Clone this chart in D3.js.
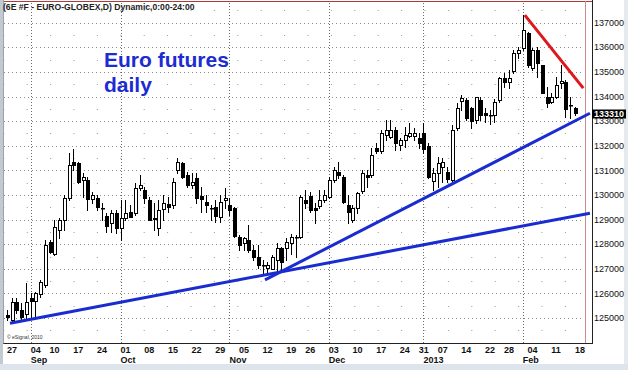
<!DOCTYPE html>
<html>
<head>
<meta charset="utf-8">
<script src="https://cdn.jsdelivr.net/npm/d3@7"></script>
<style>
body { margin: 0; background: #fff; }
svg { display: block; font-family: "Liberation Sans", Arial, sans-serif; }
</style>
</head>
<body>
<script>
// daily bars, 27 Aug 2012 .. 18 Feb 2013 (one entry per trading day)
const open = [125130,124920,125670,125330,125200,125820,125670,126010,126350,128100,
  127630,128580,128990,129870,131350,131300,130610,130610,129830,129870,
  129460,129150,128850,129260,128650,129050,129320,129260,130270,130200,
  129800,128990,128650,129420,129640,129600,131020,131290,130810,130410,
  130680,129960,129730,129470,129500,129120,129800,129600,129460,128280,
  128050,128170,127770,127500,127160,127010,127010,127360,127840,127840,
  128050,128280,128310,129800,129960,129460,129550,129800,129930,130610,
  130950,130740,129600,128990,129460,130140,130810,130810,131900,131760,
  132440,132370,132640,132030,132240,132400,132370,132300,132530,131990,
  130540,130880,131150,130950,130610,132710,133790,133860,133520,133050,
  133860,133330,133250,133250,133860,134750,134600,135010,135760,135960,
  136570,135150,135890,135280,133990,133790,133990,134560,134600,133660,
  133520];
const high = [125330,125810,125810,125600,126410,126010,126050,126550,128170,128170,
  128990,129050,130000,131700,131860,131350,130880,130740,130140,130000,
  129660,129260,129390,129390,129800,129800,129600,130480,130810,130340,
  129930,129660,129800,130000,129930,130680,131490,131350,130950,130880,
  130880,130340,130000,129600,129800,130000,130270,129870,129530,128380,
  128310,128780,127970,127970,127360,127290,127560,128040,127900,128240,
  128420,128380,129990,130200,130140,129660,130200,130200,130740,131150,
  131350,130810,130000,129600,130140,131020,131020,131900,132100,132640,
  133050,133050,132780,132300,132780,132910,132710,132510,132910,132100,
  131090,131560,131490,131150,132850,133730,134060,133930,133590,133990,
  133990,133520,133450,133900,134810,134950,135080,135890,136030,137310,
  136630,135960,136030,135280,134400,134130,134810,135280,134670,133990,
  133590];
const low = [124920,124860,125200,124920,125000,125060,125060,125870,126280,127630,
  127560,128240,128580,129800,131020,130480,129930,129390,129660,129390,
  128990,128510,128510,128450,128170,128990,129120,129190,130200,129660,
  128990,128580,128380,128990,129320,129460,130880,130680,130340,130270,
  129660,129320,129320,128990,128920,128920,129460,129190,128280,127770,
  127770,127700,127360,127020,126820,126820,127010,126820,126960,127360,
  127600,127500,128250,129460,129320,128850,129460,129730,129870,130540,
  130680,129660,128850,128920,129260,130070,130340,130740,131700,131700,
  132240,132300,131830,131830,131960,132360,132240,131900,131700,130680,
  130200,130340,130540,130540,130540,132640,133450,133050,132710,132910,
  133050,132950,132900,132980,133790,134400,134340,134940,135550,135890,
  135210,135080,134810,134130,133590,133730,133930,134340,133180,133120,
  133250];
const close = [125050,125670,125330,125060,125670,125710,126010,126480,127970,127700,
  128710,128990,129870,131220,131220,130540,130740,129830,130000,129500,
  129450,128740,129260,128650,129050,129270,129120,130270,130410,129870,
  128990,129050,129390,129660,129500,130540,131350,130740,130410,130540,
  129870,129830,129600,129460,129120,129730,129870,129390,128310,127970,
  128260,127770,127500,127160,127150,127150,127500,127840,127290,128100,
  128310,128300,129930,129660,129390,129390,129800,130000,130610,131020,
  130810,129730,129320,129460,130070,130880,130740,131630,131760,132510,
  132640,132640,132100,132240,132440,132530,132510,132100,131900,130740,
  130880,131290,131350,130680,132640,133520,133930,133120,132980,133990,
  133250,133250,133230,133790,134740,134600,134750,135760,135890,136700,
  135280,135890,135350,134130,133730,133990,134470,134640,133520,133650,
  133310];

// axis labels
const dayIdx = [0,5,9,14,19,24,29,34,39,44,49,54,59,63,68,73,78,83,87,91,96,101,105,110,115,120];
const dayLbl = ['27','04','10','17','24','01','08','15','22','29','05','12','19','26','03','10','17','24','31','07','14','22','28','04','11','18'];
const monthIdx = [5,24,47,68,88,109];
const monthLbl = ['Sep','Oct','Nov','Dec','2013','Feb'];
const priceTicks = d3.range(125000, 137001, 1000);
const lastPrice = 133310;

// hand drawn trend lines [bar index, price]
const blueLong = [[0.42, 124790], [122.96, 129260]];
const blueSteep = [[54.3, 126550], [122.96, 133320]];
const redLine = [[109.2, 137310], [121.55, 134340]];

const w = 628, h = 370;
const svg = d3.select('body').append('svg').attr('width', w).attr('height', h);

const x = d3.scaleLinear().domain([-1.06, 123.4]).range([3, 592]);
const y = d3.scaleLinear().domain([124000, 137000]).range([342.7, 22.7]);
const plotR = 585, axisX = 592, axisY = Math.round(y(124000)) + 0.5;

// window frame
svg.append('rect').attr('x', 0).attr('y', 0).attr('width', 3).attr('height', h).attr('fill', '#c3c9d1');
svg.append('rect').attr('x', 0).attr('y', 364).attr('width', w).attr('height', 6).attr('fill', '#dde4ec');
svg.append('rect').attr('x', 624).attr('y', 0).attr('width', 4).attr('height', 364).attr('fill', '#e6eaee');

// grid
svg.append('g').selectAll('line').data(priceTicks).join('line')
  .attr('x1', 4).attr('x2', plotR - 1)
  .attr('y1', d => Math.round(y(d)) + 0.5).attr('y2', d => Math.round(y(d)) + 0.5)
  .attr('stroke', '#8c8c8c').attr('stroke-dasharray', '1,3');
svg.append('g').selectAll('line').data(d3.range(124500, 137600, 1000)).join('line')
  .attr('x1', 3.3).attr('x2', plotR - 1)
  .attr('y1', d => Math.round(y(d)) + 0.5).attr('y2', d => Math.round(y(d)) + 0.5)
  .attr('stroke', '#9a9a9a').attr('stroke-dasharray', '1,22.4');
svg.append('g').selectAll('line').data(monthIdx).join('line')
  .attr('x1', d => Math.round(x(d)) - 0.5).attr('x2', d => Math.round(x(d)) - 0.5)
  .attr('y1', 3).attr('y2', axisY)
  .attr('stroke', '#6a6a6a').attr('stroke-dasharray', '1,2');

// plot border
svg.append('line').attr('x1', 3).attr('x2', axisX).attr('y1', 1.5).attr('y2', 1.5).attr('stroke', '#b03a3a');
svg.append('line').attr('x1', plotR + 0.5).attr('x2', plotR + 0.5).attr('y1', 1).attr('y2', axisY).attr('stroke', '#cf8a8a');
svg.append('line').attr('x1', axisX + 0.5).attr('x2', axisX + 0.5).attr('y1', 0).attr('y2', axisY + 0.5).attr('stroke', '#222');
svg.append('line').attr('x1', 3).attr('x2', axisX).attr('y1', axisY).attr('y2', axisY).attr('stroke', '#222');
svg.append('line').attr('x1', 3.5).attr('x2', 3.5).attr('y1', 0).attr('y2', axisY).attr('stroke', '#9aa2ac');

// title
svg.append('text').attr('x', 3).attr('y', 10).style('font-size', '8.6px').style('font-weight', 'bold')
  .attr('fill', '#222').text('(6E #F - EURO-GLOBEX,D) Dynamic,0:00-24:00');

// candles
const bars = open.map((o, i) => ({i, o, h: high[i], l: low[i], c: close[i]}));
const cg = svg.append('g');
cg.selectAll('line').data(bars).join('line')
  .attr('x1', d => Math.round(x(d.i)) - 0.5).attr('x2', d => Math.round(x(d.i)) - 0.5)
  .attr('y1', d => Math.round(y(Math.max(d.h, d.o, d.c))))
  .attr('y2', d => Math.round(y(Math.min(d.l, d.o, d.c))) + 1)
  .attr('stroke', '#000');
cg.selectAll('rect').data(bars).join('rect')
  .attr('x', d => Math.round(x(d.i)) - 1.5).attr('width', 3)
  .attr('y', d => Math.round(y(Math.max(d.o, d.c))) + 0.5)
  .attr('height', d => Math.max(0.5, Math.round(Math.abs(y(d.o) - y(d.c)))))
  .attr('fill', d => d.c >= d.o ? '#fff' : '#000')
  .attr('stroke', '#000');

// trend lines
const ln = d3.line().x(d => x(d[0])).y(d => y(d[1]));
svg.append('path').attr('d', ln(blueLong)).attr('stroke', '#1a2ccf').attr('stroke-width', 3).attr('fill', 'none');
svg.append('path').attr('d', ln(blueSteep)).attr('stroke', '#1a2ccf').attr('stroke-width', 3).attr('fill', 'none');
svg.append('path').attr('d', ln(redLine)).attr('stroke', '#e0161c').attr('stroke-width', 3).attr('fill', 'none');

// annotation
const note = svg.append('text').attr('fill', '#1c2cd2').style('font-size', '21px').style('font-weight', 'bold');
note.append('tspan').attr('x', 104).attr('y', 66.5).text('Euro futures');
note.append('tspan').attr('x', 104).attr('y', 91.5).text('daily');

svg.append('text').attr('x', 7).attr('y', 339).style('font-size', '5px').attr('fill', '#333').text('\u00a9 eSignal, 2010');

// right price axis
svg.append('g').selectAll('text').data(priceTicks).join('text')
  .attr('x', axisX + 2).attr('y', d => y(d)).attr('dy', '0.35em')
  .style('font-size', '9px').attr('fill', '#111').text(d => d);
svg.append('rect').attr('x', axisX).attr('y', Math.round(y(lastPrice)) - 4.5).attr('width', 34).attr('height', 9).attr('fill', '#000');
svg.append('text').attr('x', axisX + 2).attr('y', y(lastPrice)).attr('dy', '0.35em')
  .style('font-size', '9px').style('font-weight', 'bold').attr('fill', '#fff').text(lastPrice);

// bottom date axis
svg.append('g').selectAll('text').data(dayIdx).join('text')
  .attr('x', (d, i) => x(d) - 1).attr('y', 352.5)
  .style('font-size', '9px').style('font-weight', 'bold').attr('fill', '#111')
  .text((d, i) => dayLbl[i]);
svg.append('g').selectAll('text').data(monthIdx).join('text')
  .attr('x', d => x(d) - 1).attr('y', 363)
  .style('font-size', '9px').style('font-weight', 'bold').attr('fill', '#111')
  .text((d, i) => monthLbl[i]);
</script>
</body>
</html>
